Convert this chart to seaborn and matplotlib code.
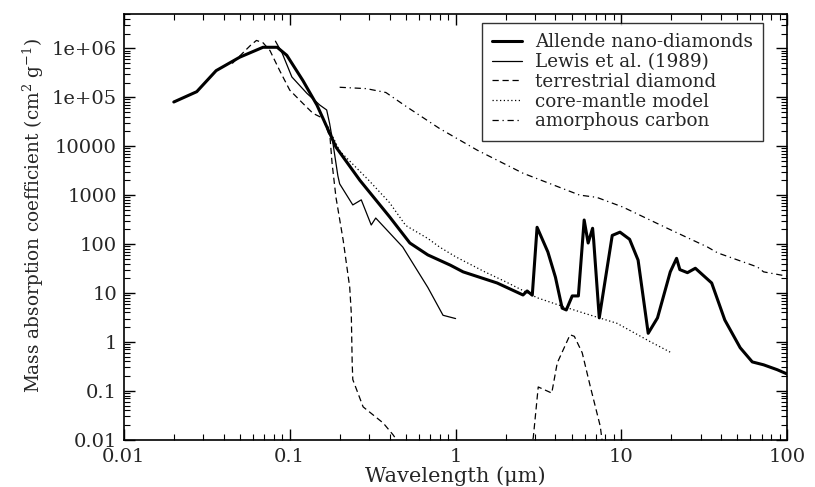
import numpy as np
import pandas as pd
import matplotlib
matplotlib.use("Agg")
import matplotlib.pyplot as plt
import matplotlib.ticker as mticker
import seaborn as sns

# data (wavelength in um, kappa in cm^2 g^-1)
allende_wl = [0.02, 0.0275, 0.036, 0.05, 0.069, 0.084, 0.096, 0.12, 0.146, 0.19, 0.265,
              0.4, 0.53, 0.68, 0.93, 1.11, 1.78, 2.55, 2.7, 2.9, 3.1, 3.6, 4.0, 4.39,
              4.65, 5.05, 5.5, 5.96, 6.3, 6.7, 6.8, 7.35, 8.8, 9.8, 11.2, 12.6, 14.5,
              16.5, 19.7, 21.5, 22.5, 25, 27.9, 35, 42, 52, 61.5, 72, 87, 100]
allende_k = [8e4, 1.3e5, 3.5e5, 6.6e5, 1.05e6, 1.05e6, 7.2e5, 2.2e5, 6.9e4, 9600, 2000,
             360, 105, 60, 37, 27, 16, 9.1, 11, 9, 220, 69, 21, 4.9,
             4.5, 8.7, 8.7, 310, 105, 210, 120, 3.1, 150, 175, 125, 47, 1.5,
             3.1, 27, 51, 30, 26, 32, 16, 2.8, 0.76, 0.39, 0.34, 0.27, 0.22]

lewis_wl = [0.082, 0.09, 0.103, 0.127, 0.152, 0.167, 0.174, 0.18, 0.195, 0.2, 0.24,
            0.27, 0.31, 0.33, 0.48, 0.68, 0.84, 1.0]
lewis_k = [1.4e6, 8e5, 2.6e5, 1.2e5, 6.9e4, 5.5e4, 2.9e4, 1.5e4, 2500, 1700, 630,
           800, 245, 340, 87, 13, 3.5, 3.0]

terr_wl = [0.045, 0.058, 0.063, 0.069, 0.076, 0.087, 0.1, 0.12, 0.138, 0.159, 0.175,
           0.18, 0.19, 0.21, 0.23, 0.235, 0.238, 0.24, 0.277, 0.366, 0.42, 0.45,
           0.6, 2.5, 2.94, 3.15, 3.8, 4.1, 4.9, 5.2, 5.8, 6.5, 7.45, 7.7]
terr_k = [4.9e5, 1.15e6, 1.45e6, 1.3e6, 9e5, 3.5e5, 1.4e5, 7.5e4, 4.7e4, 3.7e4, 1.5e4,
          4500, 900, 120, 13, 3.9, 0.37, 0.17, 0.047, 0.022, 0.0126, 0.009,
          0.001, 0.001, 0.011, 0.12, 0.09, 0.37, 1.4, 1.3, 0.6, 0.12, 0.019, 0.008]

core_wl = [0.17, 0.2, 0.3, 0.4, 0.5, 0.68, 0.8, 1.0, 1.5, 2.0, 3.1, 4.1, 5.9, 9.4, 15, 20]
core_k = [2.5e4, 8000, 2000, 700, 240, 130, 87, 55, 27, 17, 8, 5.8, 3.9, 2.4, 1.0, 0.6]

amor_wl = [0.2, 0.29, 0.38, 0.51, 0.8, 1.35, 2.55, 5.6, 7.1, 10.2, 18.9, 33, 38, 66, 72, 100]
amor_k = [1.6e5, 1.5e5, 1.25e5, 6.3e4, 2.3e4, 8300, 2800, 1000, 900, 570, 210, 87, 66, 34, 27, 22]

series = [
    ("Allende nano-diamonds", allende_wl, allende_k, "-", 2.2),
    ("Lewis et al. (1989)", lewis_wl, lewis_k, "-", 0.9),
    ("terrestrial diamond", terr_wl, terr_k, (0, (5, 3)), 0.9),
    ("core-mantle model", core_wl, core_k, (0, (1, 2)), 0.9),
    ("amorphous carbon", amor_wl, amor_k, (0, (5, 3, 1, 3)), 0.9),
]

sns.set_theme(style="ticks")
plt.rcParams['font.family'] = ['DejaVu Serif']
plt.rcParams['mathtext.fontset'] = 'dejavuserif'

fig = plt.figure(figsize=(8.15, 4.87), dpi=100)
ax = fig.add_axes([0.152, 0.097, 0.814, 0.874])

for name, wl, k, ls, lw in series:
    df = pd.DataFrame({"wl": wl, "k": k})
    sns.lineplot(data=df, x="wl", y="k", ax=ax, color="black", linestyle=ls,
                 linewidth=lw, sort=False, estimator=None, label=name)

ax.set_xscale("log")
ax.set_yscale("log")
ax.set_xlim(0.01, 100)
ax.set_ylim(0.01, 5e6)

ax.set_xticks([0.01, 0.1, 1, 10, 100])
ax.set_xticklabels(["0.01", "0.1", "1", "10", "100"])
ax.set_yticks([0.01, 0.1, 1, 10, 100, 1000, 1e4, 1e5, 1e6])
ax.set_yticklabels(["0.01", "0.1", "1", "10", "100", "1000", "10000", "1e+05", "1e+06"])
ax.yaxis.set_minor_locator(mticker.LogLocator(base=10, subs=np.arange(2, 10), numticks=20))
ax.xaxis.set_minor_locator(mticker.LogLocator(base=10, subs=np.arange(2, 10), numticks=20))
ax.yaxis.set_minor_formatter(mticker.NullFormatter())
ax.xaxis.set_minor_formatter(mticker.NullFormatter())

ax.tick_params(which="both", direction="in", top=True, right=True, labelsize=14, color="black")
ax.tick_params(which="major", length=8, width=1)
ax.tick_params(which="minor", length=4, width=0.8)
ax.tick_params(axis="x", which="major", pad=6)
ax.tick_params(axis="y", which="major", pad=5)
for s in ax.spines.values():
    s.set_color("black")
    s.set_linewidth(1.2)

ax.set_xlabel("Wavelength (μm)", fontsize=15, labelpad=0)
ax.set_ylabel("Mass absorption coefficient (cm$^{2}$ g$^{-1}$)", fontsize=13.3)
ax.yaxis.set_label_coords(-0.118, 0.526)

leg = ax.legend(loc="upper right", bbox_to_anchor=(0.964, 0.979), fontsize=13.2,
                frameon=True, fancybox=False, edgecolor="black", handlelength=1.65,
                borderpad=0.55, labelspacing=0.1, handletextpad=0.7, borderaxespad=0)
leg.get_frame().set_linewidth(1.0)

fig.savefig("out.png", dpi=100)
